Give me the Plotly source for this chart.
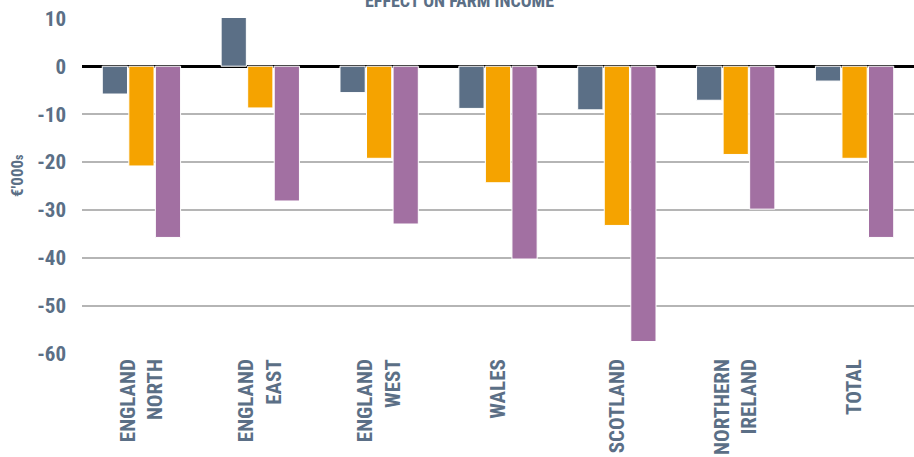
import plotly.graph_objects as go

categories = ["ENGLAND<br>NORTH", "ENGLAND<br>EAST", "ENGLAND<br>WEST", "WALES",
              "SCOTLAND", "NORTHERN<br>IRELAND", "TOTAL"]
series_a = [-5.8, 10.2, -5.5, -8.8, -9.1, -7.1, -3.1]
series_b = [-20.8, -8.7, -19.2, -24.3, -33.2, -18.4, -19.2]
series_c = [-35.7, -28.1, -32.9, -40.2, -57.4, -29.8, -35.7]
series_names = ["Scenario A", "Scenario B", "Scenario C"]
colors = ["#5b6f86", "#f5a300", "#a270a2"]
y_ticks = [10, 0, -10, -20, -30, -40, -50, -60]
y_ticktext = ["10", "0", "-10", "-20", "-30", "-40", "-50", "-60"]

FONT = "Roboto Condensed, Liberation Sans Narrow, DejaVu Sans Condensed, sans-serif"
TXT = "#5b6f86"

fig = go.Figure()
for name, vals, col in zip(series_names, [series_a, series_b, series_c], colors):
    fig.add_trace(go.Bar(x=categories, y=vals, name=name,
                         marker=dict(color=col, line=dict(color="white", width=1))))

fig.update_layout(
    width=914, height=457,
    margin=dict(l=82, r=0, t=18, b=103),
    plot_bgcolor="white", paper_bgcolor="white",
    barmode="group", bargap=0.33, bargroupgap=0.05,
    showlegend=False,
    font=dict(family=FONT, color=TXT, size=18, weight="bold"),
)
fig.update_yaxes(range=[-60, 10.05], tickvals=y_ticks, ticktext=y_ticktext, showgrid=True,
                 gridcolor="#b5b5b5", gridwidth=1.5,
                 zeroline=True, zerolinecolor="black", zerolinewidth=2.5,
                 tickfont=dict(family=FONT, size=21, color=TXT, weight="bold"),
                 ticks="", ticklen=0, showline=False, automargin=False,
                 ticklabelstandoff=15)
fig.update_xaxes(tickangle=-90, showgrid=False, ticks="", showline=False,
                 tickfont=dict(family=FONT, size=21, color=TXT, weight="bold"),
                 automargin=False)

fig.add_annotation(text="EFFECT ON FARM INCOME", xref="paper", yref="paper",
                   x=0.454, y=1.052, xanchor="center", yanchor="middle", showarrow=False,
                   font=dict(family=FONT, size=18, color=TXT, weight="bold"))
fig.add_annotation(text="€'000<span style='font-size:12px'>s</span>", xref="paper", yref="paper",
                   x=-0.078, y=0.53, xanchor="center", yanchor="middle", showarrow=False,
                   textangle=-90,
                   font=dict(family=FONT, size=17, color=TXT, weight="bold"))

fig.write_html("out.html", config={"displayModeBar": False},
               post_script="document.body.style.margin='0';document.body.style.overflow='hidden';")
